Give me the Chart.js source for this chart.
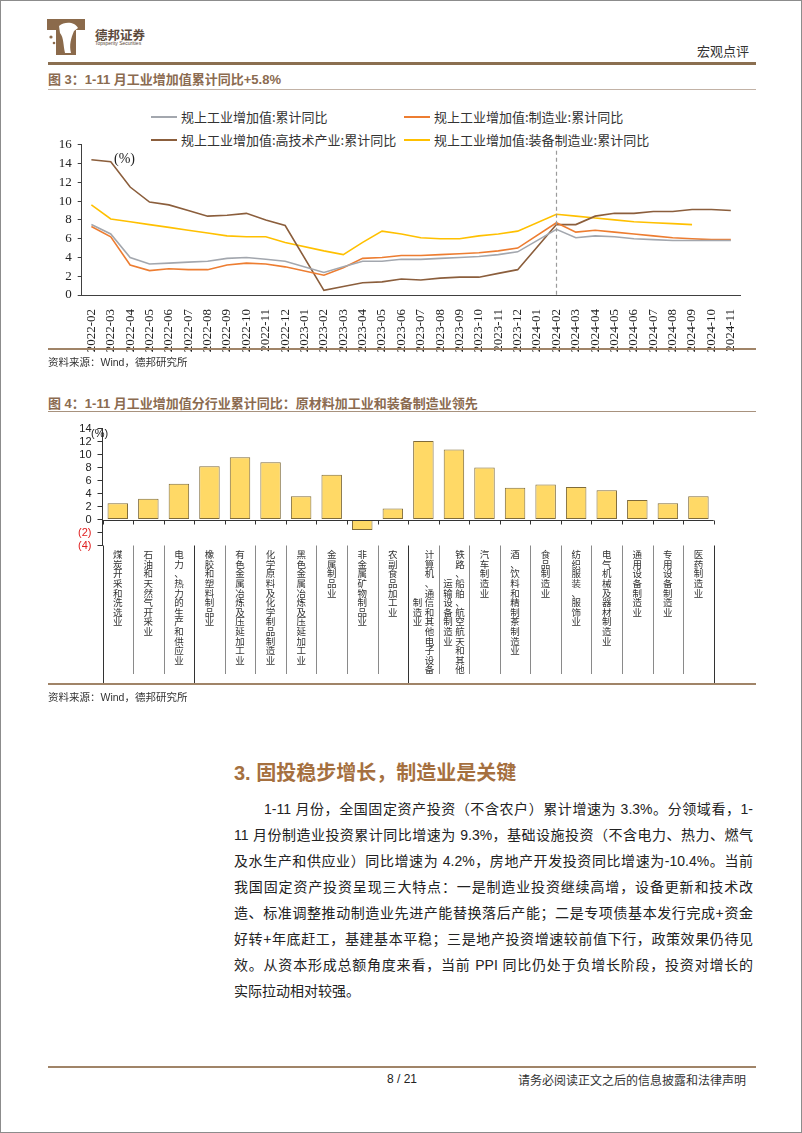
<!DOCTYPE html>
<html>
<head>
<meta charset="utf-8">
<script src="https://cdn.jsdelivr.net/npm/chart.js@4.4.1/dist/chart.umd.min.js"></script>
<style>
html, body { margin: 0; padding: 0; background: #fff; }
#page { position: relative; width: 800px; height: 1131px; border: 1px solid #8c8c8c; overflow: hidden;
        font-family: "Liberation Sans", "Noto Sans CJK SC", sans-serif; color: #222; }
.t { position: absolute; white-space: nowrap; }
.rule { position: absolute; left: 47px; width: 708px; }
.lg { position: absolute; height: 20px; line-height: 20px; font-family: "Noto Sans CJK SC", sans-serif; font-size: 13px; color: #333; white-space: nowrap; }
.lg i { display: inline-block; width: 26px; height: 2px; vertical-align: middle; margin-right: 4px; position: relative; top: -1px; }
.para { position: absolute; left: 233px; width: 519px; height: 26px; line-height: 26px; font-size: 14px; color: #222;
        text-align: justify; text-align-last: justify; white-space: nowrap; }
canvas { position: absolute; }
</style>
</head>
<body>
<div id="page">
  <!-- header -->
  <svg class="t" style="left:46px;top:18px" width="38" height="36" viewBox="0 0 38 36">
    <rect x="0" y="0" width="38" height="11" fill="#8B6A4B"/>
    <rect x="9" y="0" width="20" height="36" fill="#8B6A4B"/>
    <path d="M12 7 C18 2 28 3 31 9 L27 12 C24 19 22 26 24 34 L18 34 C16 26 17 19 13 14 Z" fill="#fff"/>
    <circle cx="4" cy="18" r="1.6" fill="#8B6A4B"/>
    <circle cx="7" cy="24" r="1.3" fill="#8B6A4B"/>
  </svg>
  <div class="t" style="left:94px;top:24px;font-size:12.5px;font-weight:bold;color:#5c4a3b;font-family:'Noto Sans CJK SC'">德邦证券</div>
  <div class="t" style="left:94px;top:39px;font-size:5px;color:#5c4a3b">Topsperity Securities</div>
  <div class="t" style="left:696px;top:40px;font-size:13px;color:#333;font-family:'Noto Sans CJK SC'">宏观点评</div>
  <div class="rule" style="top:61px;border-top:3px solid #8B6F50"></div>

  <!-- figure 3 -->
  <div class="t" style="left:47px;top:68px;font-size:13px;font-weight:bold;color:#8B6B50">图 3：1-11 月工业增加值累计同比+5.8%</div>
  <div class="rule" style="top:88px;border-top:1.5px solid #c2b2a6"></div>

  <div class="lg" style="left:150px;top:106px"><i style="background:#A3A7AE"></i>规上工业增加值:累计同比</div>
  <div class="lg" style="left:403px;top:106px"><i style="background:#ED7D31"></i>规上工业增加值:制造业:累计同比</div>
  <div class="lg" style="left:150px;top:129px"><i style="background:#8B5E3C"></i>规上工业增加值:高技术产业:累计同比</div>
  <div class="lg" style="left:403px;top:129px"><i style="background:#FFC000"></i>规上工业增加值:装备制造业:累计同比</div>

  <canvas id="lineChart" width="720" height="230" style="left:40px;top:130px"></canvas>
  <div class="t" style="left:113px;top:150px;font-size:14px;font-family:'Liberation Serif';color:#222">(%)</div>

  <div class="rule" style="top:347px;border-top:2px solid #A08468"></div>
  <div class="t" style="left:47px;top:353px;font-size:10.5px;color:#333">资料来源：Wind，德邦研究所</div>

  <!-- figure 4 -->
  <div class="t" style="left:47px;top:392px;font-size:13px;font-weight:bold;color:#8B6B50">图 4：1-11 月工业增加值分行业累计同比：原材料加工业和装备制造业领先</div>
  <div class="rule" style="top:410px;border-top:1.5px solid #a8927e"></div>

  <canvas id="barChart" width="700" height="275" style="left:40px;top:415px"></canvas>
  <div class="t" style="left:90px;top:426px;font-size:11px;color:#222">(%)</div>

  <div class="rule" style="top:682px;border-top:2px solid #A08468"></div>
  <div class="t" style="left:47px;top:688px;font-size:10.5px;color:#333">资料来源：Wind，德邦研究所</div>

  <!-- section text -->
  <div class="t" style="left:233px;top:756px;font-size:20px;font-weight:bold;color:#A5703F">3. 固投稳步增长，制造业是关键</div>

  <div class="para" style="top:795px;left:263px;width:489px">1-11 月份，全国固定资产投资（不含农户）累计增速为 3.3%。分领域看，1-</div>
  <div class="para" style="top:821px">11 月份制造业投资累计同比增速为 9.3%，基础设施投资（不含电力、热力、燃气</div>
  <div class="para" style="top:847px">及水生产和供应业）同比增速为 4.2%，房地产开发投资同比增速为-10.4%。当前</div>
  <div class="para" style="top:873px">我国固定资产投资呈现三大特点：一是制造业投资继续高增，设备更新和技术改</div>
  <div class="para" style="top:899px">造、标准调整推动制造业先进产能替换落后产能；二是专项债基本发行完成+资金</div>
  <div class="para" style="top:925px">好转+年底赶工，基建基本平稳；三是地产投资增速较前值下行，政策效果仍待见</div>
  <div class="para" style="top:951px">效。从资本形成总额角度来看，当前 PPI 同比仍处于负增长阶段，投资对增长的</div>
  <div class="para" style="top:977px;text-align-last:left">实际拉动相对较强。</div>

  <!-- footer -->
  <div class="rule" style="top:1065px;border-top:2px solid #A08468"></div>
  <div class="t" style="left:386px;top:1071px;font-size:12px;color:#222">8 / 21</div>
  <div class="t" style="left:517px;top:1070px;font-size:12px;color:#333;font-family:'Noto Sans CJK SC'">请务必阅读正文之后的信息披露和法律声明</div>
</div>

<script>
'use strict';

// ---------- figure 3 data: cumulative y/y growth of industrial value added (%) ----------
const months = [
  '2022-02', '2022-03', '2022-04', '2022-05', '2022-06', '2022-07', '2022-08', '2022-09', '2022-10', '2022-11', '2022-12',
  '2023-01', '2023-02', '2023-03', '2023-04', '2023-05', '2023-06', '2023-07', '2023-08', '2023-09', '2023-10', '2023-11', '2023-12',
  '2024-01', '2024-02', '2024-03', '2024-04', '2024-05', '2024-06', '2024-07', '2024-08', '2024-09', '2024-10', '2024-11'
];
const totalIndustry = [7.5, 6.5, 4.0, 3.3, 3.4, 3.5, 3.6, 3.9, 4.0, 3.8, 3.6,
  null, 2.4, 3.0, 3.6, 3.6, 3.8, 3.8, 3.9, 4.0, 4.1, 4.3, 4.6,
  null, 7.0, 6.1, 6.3, 6.2, 6.0, 5.9, 5.8, 5.8, 5.8, 5.8];
const manufacturing = [7.3, 6.2, 3.2, 2.6, 2.8, 2.7, 2.7, 3.2, 3.4, 3.3, 3.0,
  null, 2.1, 2.9, 3.9, 4.0, 4.2, 4.2, 4.3, 4.4, 4.5, 4.7, 5.0,
  null, 7.7, 6.7, 6.9, 6.7, 6.5, 6.3, 6.1, 6.0, 5.9, 5.9];
const highTech = [14.4, 14.2, 11.5, 9.9, 9.6, 9.0, 8.4, 8.5, 8.7, 8.0, 7.4,
  null, 0.5, 0.9, 1.3, 1.4, 1.7, 1.6, 1.8, 1.9, 1.9, 2.3, 2.7,
  null, 7.5, 7.5, 8.4, 8.7, 8.7, 8.9, 8.9, 9.1, 9.1, 9.0];
const equipment = [9.6, 8.1, 7.8, 7.5, 7.2, 6.9, 6.6, 6.3, 6.2, 6.2, 5.6,
  null, 4.7, 4.3, 5.6, 6.8, 6.5, 6.1, 6.0, 6.0, 6.3, 6.5, 6.8,
  null, 8.6, 8.4, 8.2, 8.0, 7.8, 7.7, 7.6, 7.5, null, null];
const markerMonth = '2024-02';

// ---------- figure 4 data: Jan-Nov cumulative y/y growth by industry (%) ----------
const industries = [
  '煤炭开采和洗选业', '石油和天然气开采业', '电力、热力的生产和供应业', '橡胶和塑料制品业',
  '有色金属冶炼及压延加工业', '化学原料及化学制品制造业', '黑色金属冶炼及压延加工业', '金属制品业',
  '非金属矿物制品业', '农副食品加工业', '计算机、通信和其他电子设备制造业', '铁路、船舶、航空航天和其他运输设备制造业',
  '汽车制造业', '酒、饮料和精制茶制造业', '食品制造业', '纺织服装、服饰业',
  '电气机械及器材制造业', '通用设备制造业', '专用设备制造业', '医药制造业'
];
const industryGrowth = [2.5, 3.2, 5.5, 8.2, 9.6, 8.8, 3.6, 6.9, -1.6, 1.7,
  12.1, 10.8, 8.0, 4.9, 5.4, 5.0, 4.5, 3.0, 2.5, 3.6];
const groupBreaks = [0, 3, 10, 20];   // category boundaries between industry groups

const serif = '"Liberation Serif", serif';
const sans = '"Liberation Sans", sans-serif';

// dashed vertical marker at 2024-02
const markerPlugin = {
  id: 'marker',
  afterDatasetsDraw(chart) {
    const {ctx, chartArea, scales: {x}} = chart;
    const px = Math.round(x.getPixelForValue(months.indexOf(markerMonth))) + 0.5;
    ctx.save();
    ctx.strokeStyle = '#9a9a9a';
    ctx.lineWidth = 1.2;
    ctx.setLineDash([4, 3]);
    ctx.beginPath();
    ctx.moveTo(px, chartArea.top + 6);
    ctx.lineTo(px, chartArea.bottom);
    ctx.stroke();
    ctx.restore();
  }
};

function lineSet(label, data, color) {
  return {label, data, borderColor: color, backgroundColor: color, borderWidth: 1.6,
    pointRadius: 0, tension: 0, spanGaps: true};
}

new Chart(document.getElementById('lineChart'), {
  type: 'line',
  data: {
    labels: months,
    datasets: [
      lineSet('规上工业增加值:累计同比', totalIndustry, '#A3A7AE'),
      lineSet('规上工业增加值:制造业:累计同比', manufacturing, '#ED7D31'),
      lineSet('规上工业增加值:高技术产业:累计同比', highTech, '#8B5E3C'),
      lineSet('规上工业增加值:装备制造业:累计同比', equipment, '#FFC000')
    ]
  },
  options: {
    responsive: false,
    animation: false,
    layout: {padding: {left: 0, top: 13, right: 20.5, bottom: 0}},
    plugins: {legend: {display: false}, tooltip: {enabled: false}},
    scales: {
      x: {
        offset: true,
        grid: {display: false},
        border: {display: true, color: '#404040', width: 1},
        ticks: {autoSkip: false, maxRotation: 90, minRotation: 90, padding: 6, color: '#222',
          font: {family: serif, size: 13}},
        afterFit(s) { s.height = 66; }
      },
      y: {
        min: 0, max: 16,
        ticks: {stepSize: 2, autoSkip: false, padding: 6, color: '#222', font: {family: serif, size: 13}},
        grid: {drawOnChartArea: false, tickLength: 4, color: '#404040'},
        border: {color: '#404040'},
        afterFit(s) { s.width = 40.7; }
      }
    }
  },
  plugins: [markerPlugin]
});

// zero axis line, category separators and vertical industry names
const industryAxisPlugin = {
  id: 'industryAxis',
  afterDraw(chart) {
    const {ctx, chartArea, scales: {x, y}} = chart;
    const step = x.getPixelForValue(1) - x.getPixelForValue(0);
    const zeroY = Math.round(y.getPixelForValue(0)) + 0.5;
    ctx.save();
    ctx.lineWidth = 1;
    ctx.strokeStyle = '#333';
    ctx.beginPath();
    ctx.moveTo(x.left, zeroY);
    ctx.lineTo(x.right, zeroY);
    ctx.stroke();
    for (let i = 0; i <= industries.length; i++) {
      const bx = Math.round(x.getPixelForValue(0) + (i - 0.5) * step) + 0.5;
      const isGroup = groupBreaks.includes(i);
      ctx.strokeStyle = '#333';
      ctx.beginPath();
      ctx.moveTo(bx, zeroY);
      ctx.lineTo(bx, zeroY + 4);
      ctx.stroke();
      ctx.strokeStyle = isGroup ? '#333' : '#8a8a8a';
      ctx.beginPath();
      ctx.moveTo(bx, chartArea.bottom);
      ctx.lineTo(bx, chartArea.bottom + (isGroup ? 138.5 : 128.5));
      ctx.stroke();
    }
    ctx.fillStyle = '#333';
    ctx.font = '9.5px "Noto Sans CJK SC"';
    ctx.textAlign = 'center';
    ctx.textBaseline = 'middle';
    const pitch = 9.6;
    const top = chartArea.bottom + 9;
    industries.forEach((name, i) => {
      const cx = x.getPixelForValue(i);
      const cols = [];
      for (let k = 0; k < name.length; k += 13) cols.push(name.slice(k, k + 13));
      const full = cols[0].length;
      cols.forEach((col, c) => {
        const colX = cx + (cols.length - 1) * 6 - c * 12;
        const y0 = top + (full - col.length) * pitch / 2;
        Array.from(col).forEach((ch, j) => ctx.fillText(ch, colX, y0 + j * pitch));
      });
    });
    ctx.restore();
  }
};

new Chart(document.getElementById('barChart'), {
  type: 'bar',
  data: {
    labels: industries,
    datasets: [{
      label: '累计同比',
      data: industryGrowth,
      backgroundColor: '#FFD966',
      borderColor: '#7F6B3A',
      borderWidth: 1,
      borderSkipped: false,
      barPercentage: 0.67,
      categoryPercentage: 1
    }]
  },
  options: {
    responsive: false,
    animation: false,
    layout: {padding: {left: 0, top: 9.8, right: 27.3, bottom: 0}},
    plugins: {legend: {display: false}, tooltip: {enabled: false}},
    scales: {
      x: {
        grid: {display: false},
        border: {display: false},
        ticks: {display: false},
        afterFit(s) { s.height = 145.5; }
      },
      y: {
        min: -4, max: 14,
        ticks: {
          stepSize: 2, autoSkip: false, padding: 6,
          font: {family: sans, size: 11},
          color: c => (c.tick.value < 0 ? '#E02020' : '#222'),
          callback: v => (v < 0 ? '(' + (-v) + ')' : v)
        },
        grid: {drawOnChartArea: false, tickLength: 5, color: '#333'},
        border: {color: '#333'},
        afterFit(s) { s.width = 61.5; }
      }
    }
  },
  plugins: [industryAxisPlugin]
});
</script>
</body>
</html>
